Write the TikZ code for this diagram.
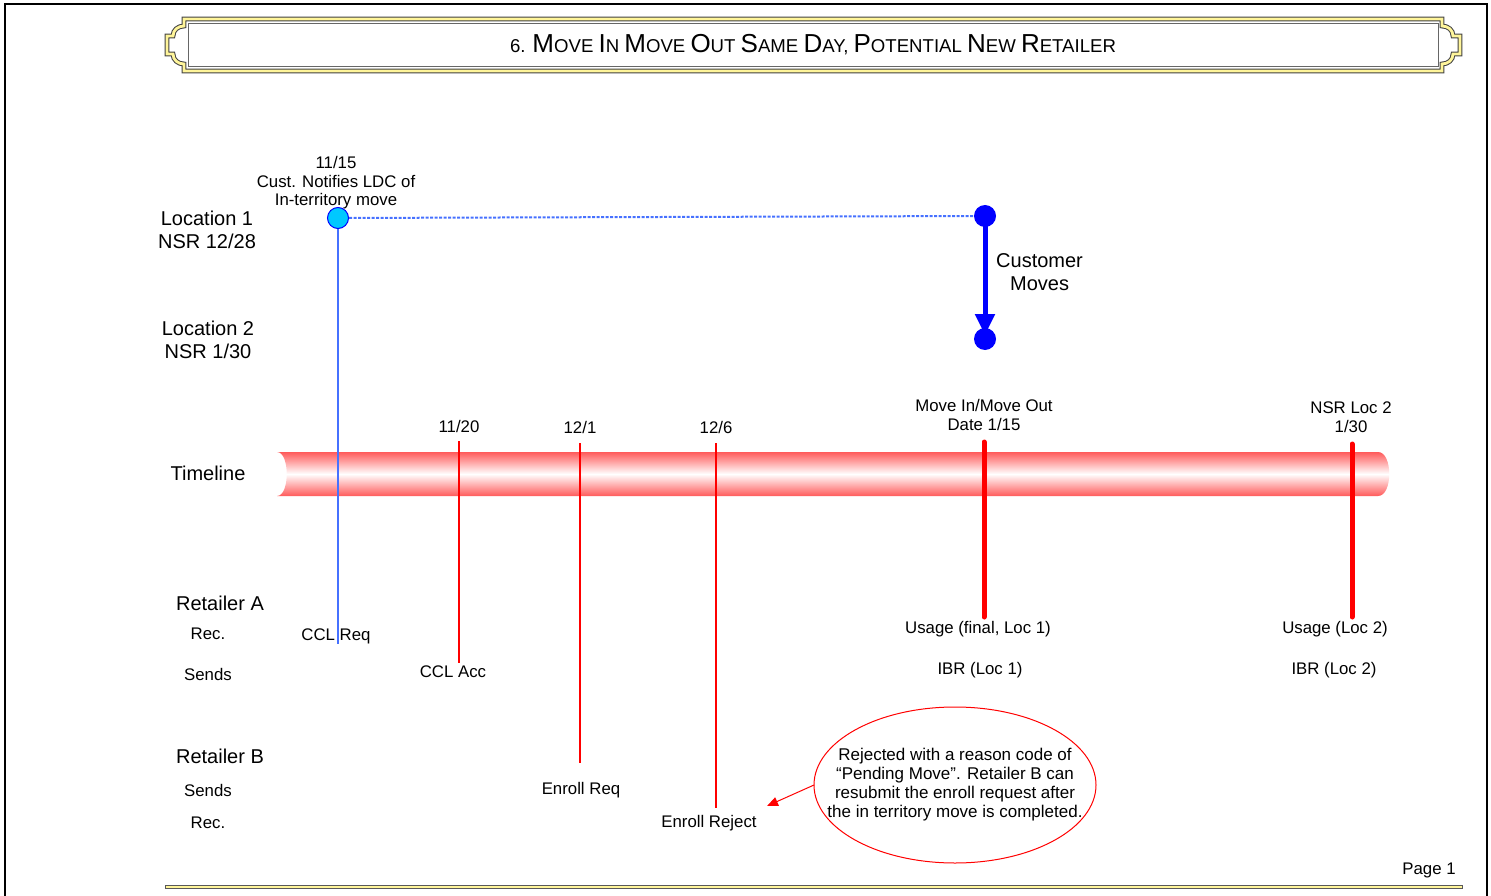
\documentclass[tikz,border=0pt]{standalone}
\usepackage{fontspec}
\setmainfont{Liberation Sans}
\usetikzlibrary{arrows.meta,positioning,shapes.geometric}
\definecolor{tlred}{HTML}{FF5A5A}
\definecolor{evblue}{HTML}{4671FF}
\definecolor{dotblue}{HTML}{0000FF}
\definecolor{startcyan}{HTML}{00C8FF}
\definecolor{frameyel}{HTML}{FFF59A}
\newcommand\tcap[1]{{\fontsize{26}{27}\selectfont #1}}

\begin{document}
\begin{tikzpicture}[x=1pt,y=-1pt,
  lbl/.style={font=\fontsize{20}{23}\selectfont, align=center, inner sep=0pt},
  sml/.style={font=\fontsize{16.8}{18.5}\selectfont, align=center, inner sep=0pt},
  tick/.style={red, line width=1.8pt},
  bigtick/.style={red, line width=5pt, line cap=round},
  evdot/.style={circle, fill=dotblue, minimum size=22pt, inner sep=0pt}]
  \useasboundingbox (0,0) rectangle (1491,896);

  % page frame
  \draw[line width=2pt] (5,896) -- (5,4) -- (1487,4) -- (1487,896);
  \draw[line width=4.5pt, black!65] (165,887) -- (1463,887);
  \draw[line width=2.6pt, frameyel] (166,887) -- (1462,887);

  % title banner
  \def\banner{(1442,19) -- (184,19) -- (184,26) .. controls (178,26) and (173,30) .. (173,36)
    -- (167,36) -- (167,54) -- (173,54) .. controls (173,60) and (178,64) .. (184,64)
    -- (184,71) -- (1442,71) -- (1442,64) .. controls (1448,64) and (1453,60) .. (1453,54)
    -- (1460,54) -- (1460,36) -- (1453,36) .. controls (1453,30) and (1448,26) .. (1442,26) -- cycle}
  \draw[line width=4.8pt, black!75] \banner;
  \draw[line width=2.8pt, frameyel] \banner;
  \draw[line width=0.8pt, black!60] (188,23.5) rectangle (1438,66.5);
  \node[font=\fontsize{18.6}{20}\selectfont, inner sep=0pt] (title) at (813,45)
    {6. \tcap{M}OVE \tcap{I}N \tcap{M}OVE \tcap{O}UT \tcap{S}AME \tcap{D}AY, \tcap{P}OTENTIAL \tcap{N}EW \tcap{R}ETAILER};

  % row labels
  \node[lbl] (loc1) at (207,230) {Location 1\\NSR 12/28};
  \node[lbl] (loc2) at (208,340) {Location 2\\NSR 1/30};
  \node[lbl] (tl) at (208,473) {Timeline};
  \node[lbl] (reta) at (220,603) {Retailer A};
  \node[sml] (retarec) at (208,634) {Rec.};
  \node[sml] (retasnd) at (208,674) {Sends};
  \node[lbl] (retb) at (220,756) {Retailer B};
  \node[sml] (retbsnd) at (208,790) {Sends};
  \node[sml] (retbrec) at (208,823) {Rec.};

  % timeline bar
  \shade[top color=tlred, bottom color=tlred, middle color=white]
    (277,452) -- (1378,452) .. controls (1393,452) and (1393,496) .. (1378,496)
    -- (277,496) .. controls (290,496) and (290,452) .. (277,452);

  % dates above the bar
  \node[sml] (d1115) at (336,183) {11/15\\Cust. Notifies LDC of\\In-territory move};
  \node[sml] (d1120) at (459,426) {11/20};
  \node[sml] (d121) at (580,427) {12/1};
  \node[sml] (d126) at (716,427) {12/6};
  \node[sml] (d115) at (984,415) {Move In/Move Out\\Date 1/15};
  \node[sml] (d130) at (1351,417) {NSR Loc 2\\1/30};

  % transactions below the bar
  \node[sml] (cclreq) at (336,636) {CCL Req};
  \node[sml] (cclacc) at (453,672) {CCL Acc};
  \node[sml] (use1) at (978,629) {Usage (final, Loc 1)};
  \node[sml] (ibr1) at (980,670) {IBR (Loc 1)};
  \node[sml] (use2) at (1335,629) {Usage (Loc 2)};
  \node[sml] (ibr2) at (1334,670) {IBR (Loc 2)};
  \node[sml] (enrreq) at (581,790) {Enroll Req};
  \node[sml] (enrrej) at (709,823) {Enroll Reject};

  % tick lines
  \coordinate (k1a) at (459,441); \coordinate (k1b) at (459,663);
  \coordinate (k2a) at (580,443); \coordinate (k2b) at (580,763);
  \coordinate (k3a) at (716,443); \coordinate (k3b) at (716,808);
  \coordinate (k4a) at (984,442); \coordinate (k4b) at (984,617);
  \coordinate (k5a) at (1352,444); \coordinate (k5b) at (1352,617);
  \draw[tick] (k1a) -- (k1b);
  \draw[tick] (k2a) -- (k2b);
  \draw[tick] (k3a) -- (k3b);
  \draw[bigtick] (k4a) -- (k4b);
  \draw[bigtick] (k5a) -- (k5b);

  % customer move
  \node[circle, draw=dotblue, fill=startcyan, line width=1pt, minimum size=21pt, inner sep=0pt] (start) at (338,218) {};
  \node[evdot] (mv1) at (985,216) {};
  \node[evdot] (mv2) at (985,339) {};
  \draw[evblue, line width=2pt] (start) -- (start |- cclreq.south);
  \draw[evblue, line width=2pt, dash pattern=on 3pt off 1.5pt] (start) -- (mv1);
  \draw[dotblue, line width=5pt, shorten >=4pt, -{Triangle[width=19pt,length=21pt]}] (mv1.center) -- (mv2.center);
  \node[lbl, right=11pt of mv1.center, anchor=west, yshift=-56pt] (moves) {Customer\\Moves};

  % reject note
  \node[align=center, inner sep=0pt, font=\fontsize{17}{19}\selectfont] (note) at (955,785)
    {Rejected with a reason code of\\“Pending Move”. Retailer B can\\resubmit the enroll request after\\the in territory move is completed.};
  \draw[red, line width=1pt] (note.center) ellipse [x radius=141, y radius=78];
  \coordinate (notew) at ([xshift=-141pt]note.center);
  \coordinate (rejtip) at (767,806);
  \draw[red, line width=1pt, -{Triangle[width=9pt,length=11pt]}] (notew) -- (rejtip);

  \node[sml] (page) at (1429,870) {Page 1};
\end{tikzpicture}
\end{document}
